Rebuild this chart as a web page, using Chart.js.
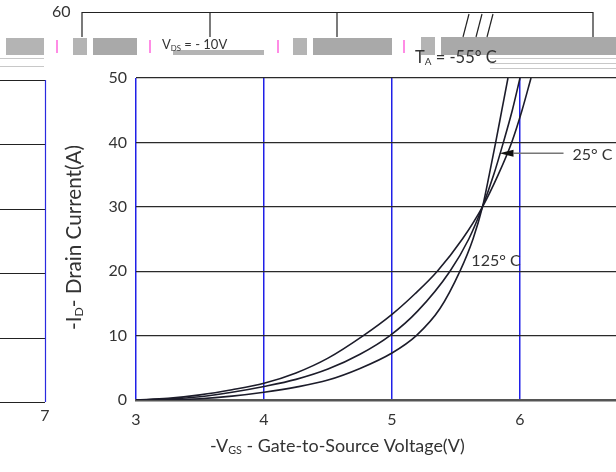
<!DOCTYPE html>
<html><head><meta charset="utf-8">
<script src="https://cdn.jsdelivr.net/npm/chart.js@4/dist/chart.umd.min.js"></script>
<style>html,body{margin:0;padding:0;background:#fff;overflow:hidden}canvas{display:block}</style>
</head><body>
<canvas id="c" width="616" height="472"></canvas>
<script>
// ---- data ----
const xTicks = [3, 4, 5, 6];
const yTicks = [0, 10, 20, 30, 40, 50];
const seriesNames = ['125° C', '25° C', '-55° C'];
const vgs125 = [3, 3.25, 3.5, 3.75, 4, 4.25, 4.5, 4.776, 5, 5.18, 5.354, 5.55, 5.707, 5.83, 5.935, 6.016, 6.086];
const id125  = [0, 0.25, 0.8, 1.6, 2.6, 4.2, 6.5, 10, 13.3, 16.5, 20, 25, 30, 35, 40, 45, 50];
const vgs25  = [3, 3.25, 3.5, 3.75, 4, 4.25, 4.5, 4.75, 4.984, 5.2, 5.453, 5.6, 5.707, 5.795, 5.87, 5.94, 6.0];
const id25   = [0, 0.15, 0.5, 1.2, 2.1, 3.2, 4.8, 7.1, 10, 13.8, 20, 25, 30, 35, 40, 45, 50];
const vgsM55 = [3, 3.25, 3.5, 3.75, 4, 4.25, 4.5, 4.75, 5, 5.19, 5.375, 5.531, 5.633, 5.707, 5.76, 5.81, 5.858, 5.906];
const idM55  = [0, 0.03, 0.2, 0.6, 1.2, 2.0, 3.1, 4.9, 7.3, 10, 14.2, 20, 25, 30, 35, 40, 45, 50];
const vdsNote = 'V', vdsSub = 'DS', vdsRest = ' = - 10V';

const FONT = 'Lato, "Open Sans", sans-serif';
const pts = (xs, ys) => xs.map((x, i) => ({x, y: ys[i]}));

function rich(ctx, parts, x, y, size) {
  let cx = x;
  parts.forEach(p => {
    if (p.sub) {
      ctx.font = (size * 0.6) + 'px ' + FONT;
      ctx.fillText(p.t, cx, y + size * 0.25);
    } else {
      ctx.font = size + 'px ' + FONT;
      ctx.fillText(p.t, cx, y);
    }
    cx += ctx.measureText(p.t).width;
  });
  return cx - x;
}
function richWidth(ctx, parts, size) {
  let w = 0;
  parts.forEach(p => { ctx.font = (p.sub ? size * 0.6 : size) + 'px ' + FONT; w += ctx.measureText(p.t).width; });
  return w;
}

const deco = {
  id: 'deco',
  afterDraw(chart) {
    const ctx = chart.ctx, xs = chart.scales.x, ys = chart.scales.y;
    ctx.save();
    ctx.fillStyle = '#333';
    ctx.textBaseline = 'middle';
    // curve labels
    ctx.font = '16px ' + FONT;
    ctx.fillText(seriesNames[0], xs.getPixelForValue(5.62), ys.getPixelForValue(21.6));
    ctx.fillText(seriesNames[1], xs.getPixelForValue(6.41), ys.getPixelForValue(38.0));
    // arrow to 25C curve
    const ay = ys.getPixelForValue(38.3);
    ctx.strokeStyle = '#777'; ctx.lineWidth = 1.5;
    ctx.beginPath(); ctx.moveTo(xs.getPixelForValue(6.34), ay); ctx.lineTo(xs.getPixelForValue(5.95), ay); ctx.stroke();
    ctx.fillStyle = '#111';
    const tip = xs.getPixelForValue(5.84);
    ctx.beginPath(); ctx.moveTo(tip, ay); ctx.lineTo(tip + 14, ay - 3.5); ctx.lineTo(tip + 14, ay + 3.5); ctx.closePath(); ctx.fill();
    // top strip artifacts
    ctx.fillStyle = '#b4b4b4';
    [[6,38,38,17],[73,38,14,17],[173,50,91,5],[293,38,14,17],[421,37,14,18]].forEach(r => ctx.fillRect(r[0], r[1], r[2], r[3]));
    ctx.fillStyle = '#a9a9a9';
    [[93,38,44,17],[313,38,79,17],[441,37,175,18]].forEach(r => ctx.fillRect(r[0], r[1], r[2], r[3]));
    ctx.strokeStyle = '#ff66dd'; ctx.lineWidth = 1.5;
    [57, 150, 278, 404].forEach(x => { ctx.beginPath(); ctx.moveTo(x, 40); ctx.lineTo(x, 53); ctx.stroke(); });
    ctx.strokeStyle = '#c8c8c8'; ctx.lineWidth = 1;
    [[0,58,44],[0,66,44],[490,58,126],[490,63,126],[490,68,126]].forEach(l => { ctx.beginPath(); ctx.moveTo(l[0], l[1] + .5); ctx.lineTo(l[0] + l[2], l[1] + .5); ctx.stroke(); });
    // top box
    ctx.strokeStyle = '#222'; ctx.lineWidth = 1.2;
    ctx.beginPath(); ctx.moveTo(82, 37); ctx.lineTo(82, 12.5); ctx.lineTo(593, 12.5); ctx.lineTo(593, 37); ctx.stroke();
    [210, 337].forEach(x => { ctx.beginPath(); ctx.moveTo(x, 12); ctx.lineTo(x, 37); ctx.stroke(); });
    [[463,469],[476,482],[487,493]].forEach(s => { ctx.beginPath(); ctx.moveTo(s[0], 37); ctx.lineTo(s[1], 14); ctx.stroke(); });
    ctx.fillStyle = '#333';
    ctx.font = '16px ' + FONT;
    ctx.fillText('60', 52, 12);
    // VDS note
    rich(ctx, [{t: vdsNote}, {t: vdsSub, sub: true}, {t: vdsRest}], 162, 45, 13);
    // TA label
    rich(ctx, [{t: 'T'}, {t: 'A', sub: true}, {t: ' = -' + seriesNames[2].slice(1)}], xs.getPixelForValue(5.18), 58, 16.5);
    // left fragment panel
    ctx.strokeStyle = '#222'; ctx.lineWidth = 1.2;
    yTicks.forEach(v => { const py = Math.round(ys.getPixelForValue(v)) + 2.5; ctx.beginPath(); ctx.moveTo(0, py); ctx.lineTo(45, py); ctx.stroke(); });
    ctx.strokeStyle = '#2a2ae0';
    ctx.beginPath(); ctx.moveTo(45.5, ys.getPixelForValue(50) + 2); ctx.lineTo(45.5, ys.getPixelForValue(0) + 2); ctx.stroke();
    ctx.fillStyle = '#333'; ctx.font = '16px ' + FONT; ctx.textAlign = 'center';
    ctx.fillText('7', 45, 416);
    ctx.textAlign = 'left';
    // axis titles
    const xt = [{t: '-V'}, {t: 'GS', sub: true}, {t: ' - Gate-to-Source Voltage(V)'}];
    const xs15 = 15 * 255 / richWidth(ctx, xt, 15);
    rich(ctx, xt, 210, 446, xs15);
    ctx.translate(74, 330);
    ctx.rotate(-Math.PI / 2);
    const yt = [{t: '-I'}, {t: 'D', sub: true}, {t: '- Drain Current(A)'}];
    const ys15 = 15 * 185 / richWidth(ctx, yt, 15);
    rich(ctx, yt, 0, 0, ys15);
    ctx.restore();
  }
};

new Chart(document.getElementById('c'), {
  type: 'line',
  data: {
    datasets: [
      {label: seriesNames[0], data: pts(vgs125, id125)},
      {label: seriesNames[1], data: pts(vgs25, id25)},
      {label: seriesNames[2], data: pts(vgsM55, idM55)}
    ].map(d => Object.assign(d, {borderColor: '#1c1c2a', borderWidth: 1.6, pointRadius: 0, cubicInterpolationMode: 'monotone', fill: false}))
  },
  options: {
    responsive: false,
    animation: false,
    layout: {padding: {left: 0, right: 0, top: 78, bottom: 0}},
    plugins: {legend: {display: false}, tooltip: {enabled: false}},
    scales: {
      x: {
        type: 'linear', min: 3, max: 6.75,
        afterFit: s => { s.height = 72; },
        afterBuildTicks: s => { s.ticks = xTicks.map(v => ({value: v})); },
        ticks: {includeBounds: false, stepSize: 1, padding: 10, color: '#333', font: {family: FONT, size: 16}},
        grid: {color: '#2020e8', lineWidth: 1.5, drawTicks: false},
        border: {display: true, color: '#555', width: 2.5}
      },
      y: {
        min: 0, max: 50,
        afterFit: s => { s.width = 136; },
        afterBuildTicks: s => { s.ticks = yTicks.map(v => ({value: v})); },
        ticks: {padding: 9, color: '#333', font: {family: FONT, size: 16}},
        grid: {color: '#2a2a2a', lineWidth: 1.2, drawTicks: false},
        border: {display: false}
      }
    }
  },
  plugins: [deco]
});
</script>
</body></html>
